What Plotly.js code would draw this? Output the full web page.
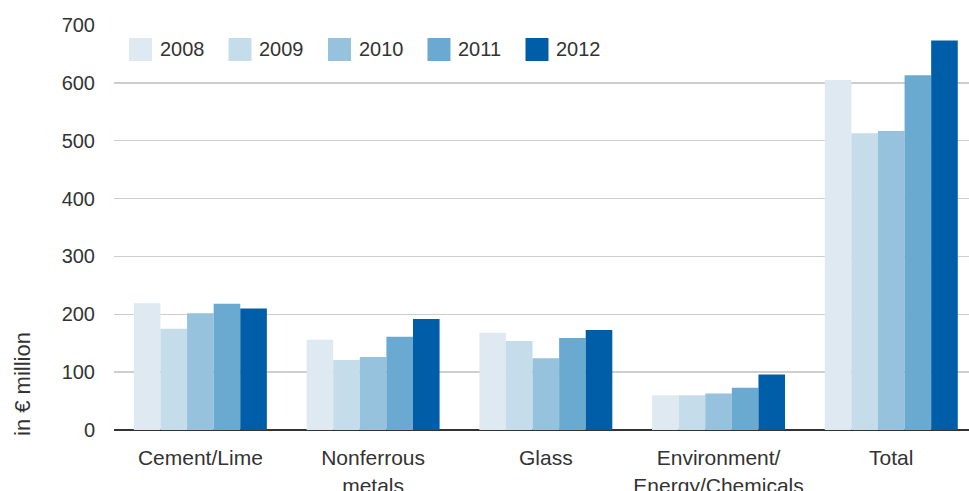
<!DOCTYPE html>
<html>
<head>
<meta charset="utf-8">
<script src="https://cdn.plot.ly/plotly-3.0.1.min.js"></script>
<style>
  html, body { margin: 0; padding: 0; background: #ffffff; }
  #chart { width: 969px; height: 491px; }
</style>
</head>
<body>
<div id="chart"></div>
<script>
// Sales by segment, in € million, 2008–2012
const categories = ["Cement/Lime", "Nonferrous<br>metals", "Glass", "Environment/<br>Energy/Chemicals", "Total"];
const years = ["2008", "2009", "2010", "2011", "2012"];
const sales2008 = [219, 156, 168, 60, 605];
const sales2009 = [175, 121, 154, 60, 513];
const sales2010 = [202, 126, 124, 63, 517];
const sales2011 = [218, 161, 159, 73, 613];
const sales2012 = [210, 192, 173, 96, 673];
const seriesValues = [sales2008, sales2009, sales2010, sales2011, sales2012];
const yearColors = ["#dfe9f2", "#c5dcea", "#96c2dd", "#6aaad0", "#005ea8"];
const yTicks = [0, 100, 200, 300, 400, 500, 600, 700];

const FONT = "Liberation Sans, Arial, sans-serif";
const TEXT_COLOR = "#333333";
const FONT_SIZE = 20;

const traces = years.map((yr, i) => ({
  type: "bar",
  name: yr,
  x: categories,
  y: seriesValues[i],
  marker: { color: yearColors[i], line: { width: 0 } },
  hoverinfo: "x+y+name"
}));

// Legend row: square swatch followed by the year, laid out left to right
const measure = document.createElement("canvas").getContext("2d");
measure.font = FONT_SIZE + "px " + FONT;
const shapes = [];
const annotations = [];
const plotLeft = 114, plotWidth = 855, plotBottom = 430, plotHeight = 405;
const swatchSize = 23, swatchTop = 38;
let cursor = 129;
years.forEach((yr, i) => {
  shapes.push({
    type: "rect", xref: "paper", yref: "paper",
    x0: (cursor - plotLeft) / plotWidth, x1: (cursor + swatchSize - plotLeft) / plotWidth,
    y0: (plotBottom - swatchTop - swatchSize) / plotHeight, y1: (plotBottom - swatchTop) / plotHeight,
    fillcolor: yearColors[i], line: { width: 0 }, layer: "above"
  });
  annotations.push({
    xref: "paper", yref: "paper",
    x: (cursor + swatchSize + 6 - plotLeft) / plotWidth,
    y: (plotBottom - swatchTop - swatchSize / 2) / plotHeight,
    xanchor: "left", yanchor: "middle", showarrow: false,
    text: yr, font: { family: FONT, size: FONT_SIZE, color: TEXT_COLOR }
  });
  cursor += swatchSize + 6 + measure.measureText(yr).width + 26;
});

// Axis caption, set low beside the lower part of the value axis
annotations.push({
  xref: "paper", yref: "paper",
  x: (22 - plotLeft) / plotWidth, y: (plotBottom - 384) / plotHeight,
  xanchor: "center", yanchor: "middle", showarrow: false,
  textangle: -90, text: "in € million",
  font: { family: FONT, size: 22, color: TEXT_COLOR }
});

const layout = {
  width: 969,
  height: 491,
  margin: { l: 114, r: 0, t: 25, b: 61, pad: 0 },
  paper_bgcolor: "#ffffff",
  plot_bgcolor: "#ffffff",
  barmode: "group",
  bargap: 0.23,
  bargroupgap: 0,
  showlegend: false,
  font: { family: FONT, size: FONT_SIZE, color: TEXT_COLOR },
  xaxis: {
    type: "category",
    range: [-0.5, 4.45],
    showgrid: false,
    showline: false,
    zeroline: false,
    ticks: "outside",
    ticklen: 9,
    tickcolor: "rgba(0,0,0,0)",
    tickfont: { family: FONT, size: 21, color: TEXT_COLOR },
    fixedrange: true
  },
  yaxis: {
    range: [0, 700],
    tickvals: yTicks,
    ticktext: yTicks.map(String),
    showgrid: true,
    gridcolor: "#cecece",
    gridwidth: 1.3,
    zeroline: true,
    zerolinecolor: "#333333",
    zerolinewidth: 2,
    showline: false,
    ticks: "outside",
    ticklen: 14,
    tickcolor: "rgba(0,0,0,0)",
    tickfont: { family: FONT, size: FONT_SIZE, color: TEXT_COLOR },
    fixedrange: true
  },
  shapes: shapes,
  annotations: annotations
};

Plotly.newPlot("chart", traces, layout, { displayModeBar: false, staticPlot: true });
</script>
</body>
</html>
